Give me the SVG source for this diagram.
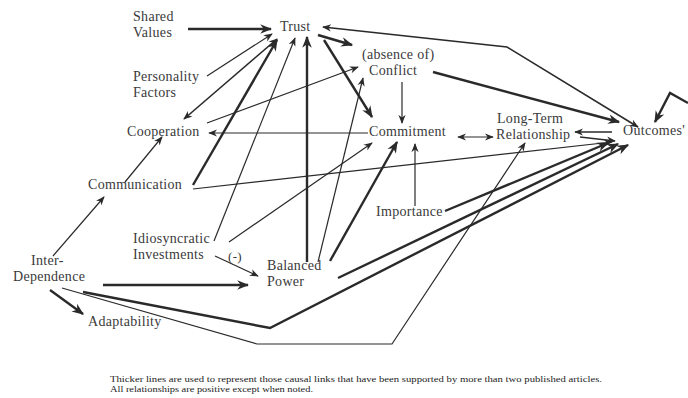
<svg xmlns="http://www.w3.org/2000/svg" width="688" height="398" viewBox="0 0 688 398">
<style>
.t{font-family:"Liberation Serif","Times New Roman",serif;font-size:14px;letter-spacing:0.3px;fill:#3a3a3a}
.s{font-family:"Liberation Serif","Times New Roman",serif;font-size:9px;fill:#222}
.c{fill:none;stroke:#2a2a2a;stroke-linejoin:miter}
.n{stroke-width:1.2}
.m{stroke-width:1.6}
.k{stroke-width:2.4}
.n,.m{marker-end:url(#a)}
.k{marker-end:url(#b)}
.both{marker-start:url(#a)}
</style>
<defs>
<marker id="a" viewBox="0 0 10 10" refX="9" refY="5" markerWidth="9" markerHeight="9" markerUnits="userSpaceOnUse" orient="auto-start-reverse"><path d="M0,1 L10,5 L0,9 L3,5 z" fill="#2a2a2a"/></marker>
<marker id="b" viewBox="0 0 10 10" refX="9" refY="5" markerWidth="12" markerHeight="12" markerUnits="userSpaceOnUse" orient="auto-start-reverse"><path d="M0,1 L10,5 L0,9 L3,5 z" fill="#2a2a2a"/></marker>
</defs>
<rect width="688" height="398" fill="#fff"/>
<g id="connectors">
<line class="c k" x1="188" y1="29" x2="271" y2="29"/>
<line class="c n" x1="207" y1="76" x2="272" y2="34"/>
<line class="c m both" x1="184" y1="119" x2="277" y2="39"/>
<line class="c k" x1="193" y1="185" x2="277" y2="40"/>
<line class="c n" x1="214" y1="241" x2="295" y2="38"/>
<line class="c k" x1="307" y1="262" x2="307" y2="37"/>
<line class="c k" x1="318" y1="35" x2="352" y2="45"/>
<line class="c k" x1="324" y1="40" x2="372" y2="117"/>
<line class="c n" x1="207" y1="123" x2="358" y2="67"/>
<line class="c n" x1="368" y1="133" x2="209" y2="133"/>
<line class="c n" x1="402" y1="82" x2="402" y2="123"/>
<line class="c n" x1="229" y1="242" x2="372" y2="143"/>
<line class="c n" x1="318" y1="262" x2="363" y2="78"/>
<line class="c k" x1="330" y1="261" x2="397" y2="142"/>
<line class="c n" x1="415" y1="206" x2="415" y2="144"/>
<line class="c n both" x1="458" y1="137" x2="493" y2="137"/>
<line class="c k" x1="433" y1="72" x2="619" y2="122"/>
<polyline class="c m both" points="638,127 507,47 323,27"/>
<polyline class="c k" points="688,103 670,93 655,122"/>
<line class="c m" x1="612" y1="132" x2="575" y2="132"/>
<line class="c m" x1="580" y1="137" x2="615" y2="141"/>
<line class="c n" x1="193" y1="189" x2="612" y2="142"/>
<line class="c k" x1="445" y1="211" x2="608" y2="143"/>
<line class="c k" x1="338" y1="278" x2="618" y2="144"/>
<polyline class="c k" points="83,292 270,328 628,145"/>
<polyline class="c n" points="62,288 257,344 392,344 525,143"/>
<line class="c n" x1="53" y1="256" x2="104" y2="197"/>
<line class="c n" x1="125" y1="182" x2="162" y2="137"/>
<line class="c n" x1="215" y1="256" x2="258" y2="276"/>
<line class="c k" x1="103" y1="285" x2="248" y2="285"/>
<line class="c k" x1="50" y1="290" x2="83" y2="314"/>
</g>
<g id="shared-values"><text class="t" x="133" y="21">Shared</text><text class="t" x="133" y="37">Values</text></g>
<g id="trust"><text class="t" x="280" y="31">Trust</text></g>
<g id="conflict"><text class="t" x="362" y="59">(absence of)</text><text class="t" x="369" y="75">Conflict</text></g>
<g id="personality-factors"><text class="t" x="133" y="81">Personality</text><text class="t" x="133" y="97">Factors</text></g>
<g id="cooperation"><text class="t" x="127" y="136">Cooperation</text></g>
<g id="commitment"><text class="t" x="369" y="136">Commitment</text></g>
<g id="long-term-relationship"><text class="t" x="497" y="123">Long-Term</text><text class="t" x="496" y="139">Relationship</text></g>
<g id="outcomes"><text class="t" x="623" y="135">Outcomes'</text></g>
<g id="communication"><text class="t" x="88" y="189">Communication</text></g>
<g id="importance"><text class="t" x="376" y="216">Importance</text></g>
<g id="idiosyncratic-investments"><text class="t" x="133" y="243">Idiosyncratic</text><text class="t" x="133" y="259">Investments</text></g>
<g id="minus-label"><text class="t" x="228" y="261" style="font-size:13px">(-)</text></g>
<g id="inter-dependence"><text class="t" x="31" y="265">Inter-</text><text class="t" x="13" y="281">Dependence</text></g>
<g id="balanced-power"><text class="t" x="267" y="270">Balanced</text><text class="t" x="267" y="286">Power</text></g>
<g id="adaptability"><text class="t" x="88" y="326">Adaptability</text></g>
<g id="footnote"><text class="s" x="110" y="382" textLength="492" lengthAdjust="spacingAndGlyphs">Thicker lines are used to represent those causal links that have been supported by more than two published articles.</text><text class="s" x="110" y="392" textLength="203" lengthAdjust="spacingAndGlyphs">All  relationships are positive except when noted.</text></g>
</svg>
